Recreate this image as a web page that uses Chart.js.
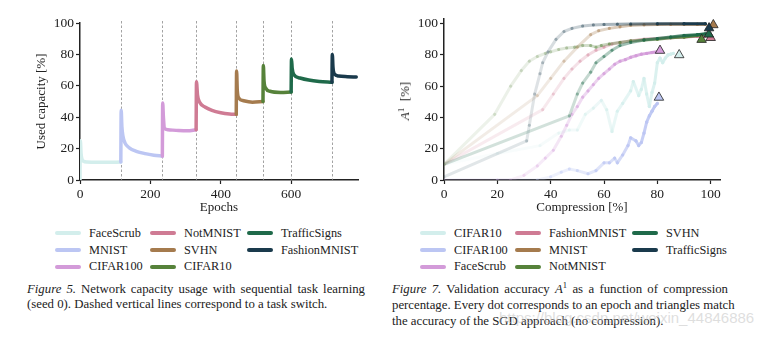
<!DOCTYPE html>
<html>
<head>
<meta charset="utf-8">
<script src="https://cdn.jsdelivr.net/npm/chart.js@4.4.1/dist/chart.umd.min.js"></script>
<style>
  body { margin: 0; background: #fff; }
  #fig { position: relative; width: 773px; height: 338px; overflow: hidden;
         font-family: 'Liberation Serif', 'DejaVu Serif', serif; color: #222; }
  canvas { position: absolute; top: 0; }
  .legend { position: absolute; top: 225px; display: grid; grid-auto-flow: column;
            grid-template-rows: repeat(3, 16.7px); font-size: 12.3px; }
  .legend .item { display: flex; align-items: center; white-space: nowrap; }
  .legend .swatch { width: 26px; height: 4px; border-radius: 2px; margin-right: 8px; }
  .caption { position: absolute; top: 282px; font-size: 12.8px; line-height: 15.3px; }
  .caption div { white-space: nowrap; }
  .caption .full { text-align: justify; text-align-last: justify; }
  .caption sup { font-size: 8.5px; vertical-align: 0; position: relative; top: -5px; }
  #ytitle2 { position: absolute; left: 405px; top: 101px; font-size: 13px; white-space: nowrap;
             transform: translate(-50%, -50%) rotate(-90deg); }
  #ytitle2 sup { font-size: 9px; vertical-align: 0; position: relative; top: -5px; }
  #mark { position: absolute; left: 499px; top: 309px; font-family: 'Liberation Sans', Arial, sans-serif;
          font-size: 15px; color: rgba(190, 190, 190, 0.5); white-space: nowrap; }
</style>
</head>
<body>
<div id="fig">
  <canvas id="capacity" width="380" height="225" style="left:0"></canvas>
  <canvas id="accuracy" width="383" height="225" style="left:390px"></canvas>
  <div id="ytitle2"><i>A</i><sup>1</sup>&nbsp;&nbsp;[%]</div>
  <div class="legend" id="legend1" style="left:55px; grid-template-columns: 95px 97px auto;"></div>
  <div class="legend" id="legend2" style="left:420px; grid-template-columns: 95px 117px auto;"></div>
  <div class="caption" style="left:27px; width:338px;">
    <div class="full"><i>Figure 5.</i> Network capacity usage with sequential task learning</div>
    <div>(seed 0). Dashed vertical lines correspond to a task switch.</div>
  </div>
  <div class="caption" style="left:392px; width:336px;">
    <div class="full"><i>Figure 7.</i> Validation accuracy <i>A</i><sup>1</sup> as a function of compression</div>
    <div class="full">percentage. Every dot corresponds to an epoch and triangles match</div>
    <div>the accuracy of the SGD approach (no compression).</div>
  </div>
  <div id="mark">https://blog.csdn.net/weixin_44846886</div>
</div>
<script>
// tasks in training order, and the epoch where each following task starts
const taskNames = ['FaceScrub', 'MNIST', 'CIFAR100', 'NotMNIST', 'SVHN', 'CIFAR10', 'TrafficSigns', 'FashionMNIST'];
const taskSwitches = [116, 234, 330, 444, 520, 600, 716];

// used capacity [%], [epoch, value] pairs per task
const capFaceScrub = [[0, 0], [1, 25], [3, 17], [6, 13], [10, 12], [20, 11.5], [50, 11.3], [80, 11.3], [116, 11.4]];
const capMNIST = [[116, 11.4], [117, 44.5], [119, 34], [122, 28], [128, 23.5], [140, 20.5], [160, 18.3], [185, 16.8], [210, 15.8], [234, 15.2]];
const capCIFAR100 = [[234, 15.2], [235, 49], [237, 40], [240, 33], [250, 32], [280, 31.5], [305, 31.3], [330, 32]];
const capNotMNIST = [[330, 32], [331, 62.5], [334, 54], [340, 49.5], [355, 46.5], [375, 44.3], [400, 42.8], [425, 42], [444, 41.8]];
const capSVHN = [[444, 41.8], [445, 69.5], [447, 57], [452, 52], [465, 50.5], [490, 49.6], [520, 50]];
const capCIFAR10 = [[520, 50], [521, 73], [523, 63], [528, 58.5], [540, 56.5], [570, 55.8], [600, 56]];
const capTrafficSigns = [[600, 56], [601, 77], [603, 71], [608, 67], [625, 65], [650, 63.7], [680, 62.8], [716, 62.2]];
const capFashionMNIST = [[716, 62.2], [717, 80], [719, 71.5], [723, 67.5], [735, 66.2], [760, 65.8], [785, 65.6]];
const capacityRuns = [capFaceScrub, capMNIST, capCIFAR100, capNotMNIST, capSVHN, capCIFAR10, capTrafficSigns, capFashionMNIST];

// validation accuracy A^1 [%] against compression [%], one dot per epoch
const accNames = ['CIFAR10', 'CIFAR100', 'FaceScrub', 'FashionMNIST', 'MNIST', 'NotMNIST', 'SVHN', 'TrafficSigns'];
const accCIFAR10 = [[0, 10], [20, 17], [36, 22], [43, 30], [47, 32], [50, 32], [53, 42], [56, 46], [59, 51], [61, 45], [63, 31], [65, 44], [67, 49], [70, 57], [71, 63], [73, 54], [74, 58], [75, 65], [76, 55], [77, 47], [78, 56], [79, 62], [80, 75], [81, 78], [82, 75], [83, 78], [84, 80], [85, 80.5], [86, 81]];
const accCIFAR100 = [[0, 0], [20, 0], [35, 0], [40, 2], [44, 5], [47, 7], [50, 6], [54, 4], [57, 6], [60, 11], [62, 11], [64, 14], [65, 11], [67, 16], [69, 22], [70, 27], [72, 25], [73, 22], [74, 24], [75, 30], [76, 37], [77, 41], [78, 44], [79, 47], [80, 49]];
const accFaceScrub = [[0, 0], [20, 0], [25, 0], [30, 3], [35, 9], [38, 14], [41, 19], [44, 28], [46, 35], [48, 42], [50, 47], [52, 53], [54, 57], [56, 61], [58, 65], [60, 68], [62, 71], [64, 74], [66, 76], [68, 77], [70, 78.5], [72, 79.5], [74, 80.5], [76, 81], [78, 81.5], [80, 82]];
const accFashionMNIST = [[0, 10], [37, 45], [41, 55], [45, 65], [48, 71], [51, 76], [54, 80], [57, 83], [60, 85], [63, 87], [66, 88], [70, 89], [75, 90], [80, 90.5], [85, 91], [90, 91.5], [95, 92], [98, 92]];
const accMNIST = [[0, 10], [35, 54], [40, 65], [45, 76], [50, 85], [55, 93], [58, 95.5], [62, 97], [66, 98], [70, 99], [75, 99.3], [80, 99.5], [85, 99.6], [90, 99.6], [95, 99.7], [98, 99.7]];
const accNotMNIST = [[0, 10], [19, 42], [25, 60], [29, 70], [32, 76], [35, 79], [38, 81], [40, 82], [43, 83.5], [46, 84.5], [49, 85], [52, 86], [55, 86], [57, 85], [59, 86], [62, 87], [66, 88], [70, 89], [75, 89.5], [80, 90], [85, 91], [90, 91.5], [95, 92.5], [97, 93]];
const accSVHN = [[0, 10], [47, 41], [50, 55], [52, 62], [55, 69], [57, 75], [60, 79], [63, 83], [66, 86], [70, 88], [75, 89.5], [80, 90.5], [85, 91.5], [90, 92.5], [95, 93], [98, 93.5]];
const accTrafficSigns = [[0, 2], [31, 25], [32, 35], [34, 55], [36, 68], [37, 75], [39, 82], [42, 90], [45, 95], [48, 97], [52, 98.5], [56, 99.2], [60, 99.5], [65, 99.7], [70, 99.8], [80, 99.9], [90, 100], [98, 100]];
const accuracyRuns = [accCIFAR10, accCIFAR100, accFaceScrub, accFashionMNIST, accMNIST, accNotMNIST, accSVHN, accTrafficSigns];

// SGD reference (no compression), same order as accNames
const sgdCompression = [88.2, 80.6, 81, 100, 101, 96.6, 99.3, 99.4];
const sgdAccuracy = [80, 52.8, 82.8, 91, 99.2, 89.8, 93.2, 97.2];

const epochTicks = [0, 200, 400, 600];
const compressionTicks = [0, 20, 40, 60, 80, 100];
const percentTicks = [0, 20, 40, 60, 80, 100];

const palette = ['#d3eeec', '#bcc6f3', '#d39bd9', '#cf7b94', '#a57b4e', '#56823a', '#1f6a4a', '#1a3a4c'];
const serif = "'Liberation Serif', 'DejaVu Serif', serif";

// early epochs are drawn faint, later ones solid
function fade(hex, t) {
  const a = 0.1 + 0.9 * Math.min(1, Math.max(0, t)) ** 3;
  const n = parseInt(hex.slice(1), 16);
  return `rgba(${n >> 16}, ${(n >> 8) & 255}, ${n & 255}, ${a.toFixed(3)})`;
}

function axis(o) {
  return {
    type: 'linear',
    min: o.min,
    max: o.max,
    afterBuildTicks: s => { s.ticks = o.ticks.map(v => ({ value: v })); },
    afterFit: s => { if (s.isHorizontal()) s.height = o.size; else s.width = o.size; },
    grid: { display: true, drawOnChartArea: false, drawTicks: true, tickLength: 4, tickWidth: 1.2, tickColor: '#222' },
    border: { display: true, color: '#222', width: 1.5 },
    ticks: { color: '#222', font: { family: serif, size: 13.5 }, padding: 2, maxRotation: 0 },
    title: { display: !!o.title, text: o.title, color: '#222', font: { family: serif, size: 13 }, padding: o.titlePad || 0 }
  };
}

// grey dashed verticals at every task switch
const switchLines = {
  id: 'switchLines',
  beforeDatasetsDraw(chart) {
    const { ctx, chartArea, scales } = chart;
    ctx.save();
    ctx.strokeStyle = '#8c8c8c';
    ctx.lineWidth = 0.8;
    ctx.setLineDash([2.5, 2]);
    taskSwitches.forEach(e => {
      const x = Math.round(scales.x.getPixelForValue(e)) + 0.5;
      ctx.beginPath();
      ctx.moveTo(x, chartArea.top - 2);
      ctx.lineTo(x, chartArea.bottom);
      ctx.stroke();
    });
    ctx.restore();
  }
};

new Chart(document.getElementById('capacity'), {
  type: 'line',
  data: {
    datasets: capacityRuns.map((run, i) => ({
      label: taskNames[i],
      data: run.map(([x, y]) => ({ x, y })),
      borderColor: palette[i],
      borderWidth: 3.5,
      borderCapStyle: 'round',
      borderJoinStyle: 'round',
      pointRadius: 0,
      cubicInterpolationMode: 'monotone',
      order: taskNames.length - i
    }))
  },
  options: {
    responsive: false,
    animation: false,
    devicePixelRatio: 1,
    layout: { padding: { top: 23, right: 22, left: 0, bottom: 0 } },
    scales: {
      x: axis({ min: 0, max: 790, ticks: epochTicks, size: 45, title: 'Epochs', titlePad: { bottom: 10 } }),
      y: axis({ min: 0, max: 100, ticks: percentTicks, size: 80, title: 'Used capacity [%]', titlePad: { top: 34 } })
    },
    plugins: { legend: { display: false }, tooltip: { enabled: false } }
  },
  plugins: [switchLines]
});

const accDatasets = accuracyRuns.map((run, i) => {
  const xEnd = run[run.length - 1][0];
  return {
    label: accNames[i],
    data: run.map(([x, y]) => ({ x, y })),
    borderColor: fade(palette[i], 1),
    borderWidth: 3,
    borderCapStyle: 'round',
    borderJoinStyle: 'round',
    segment: { borderColor: c => fade(palette[i], run[c.p1DataIndex][0] / xEnd) },
    pointRadius: 1.6,
    pointBorderWidth: 0,
    pointBackgroundColor: c => fade(palette[i], run[c.dataIndex][0] / xEnd),
    tension: 0,
    order: accNames.length - i
  };
});

accDatasets.push({
  label: 'SGD',
  data: sgdCompression.map((x, i) => ({ x, y: sgdAccuracy[i] })),
  showLine: false,
  pointStyle: 'triangle',
  pointRadius: 5.5,
  pointBackgroundColor: palette,
  pointBorderColor: '#222',
  pointBorderWidth: 0.8,
  clip: false,
  order: 0
});

new Chart(document.getElementById('accuracy'), {
  type: 'line',
  data: { datasets: accDatasets },
  options: {
    responsive: false,
    animation: false,
    devicePixelRatio: 1,
    layout: { padding: { top: 19, right: 53, left: 0, bottom: 0 } },
    scales: {
      x: axis({ min: 0, max: 103.5, ticks: compressionTicks, size: 45, title: 'Compression [%]', titlePad: { bottom: 10 } }),
      y: axis({ min: 0, max: 103, ticks: percentTicks, size: 54 })
    },
    plugins: { legend: { display: false }, tooltip: { enabled: false } }
  }
});

function buildLegend(el, names) {
  names.forEach((name, i) => {
    const item = document.createElement('div');
    item.className = 'item';
    item.innerHTML = `<span class="swatch" style="background:${palette[i]}"></span>${name}`;
    el.appendChild(item);
  });
}
buildLegend(document.getElementById('legend1'), taskNames);
buildLegend(document.getElementById('legend2'), accNames);
</script>
</body>
</html>
